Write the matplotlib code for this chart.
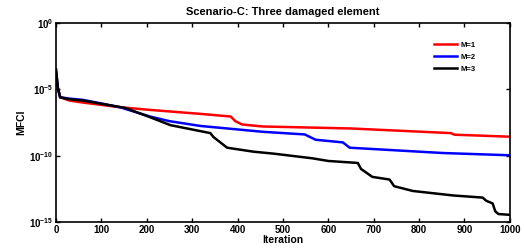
import numpy as np
import matplotlib.pyplot as plt

# iteration / log10(MFCI)
red_it = [0, 4, 9, 30, 60, 141, 207, 318, 385, 395, 410, 455, 649, 870, 878, 1000]
red_lg = [-3.7, -4.9, -5.6, -5.85, -6.0, -6.35, -6.55, -6.85, -7.05, -7.4, -7.65, -7.8, -7.95, -8.3, -8.42, -8.57]

blue_it = [0, 4, 9, 30, 60, 141, 207, 250, 318, 455, 548, 572, 632, 647, 852, 1000]
blue_lg = [-3.7, -4.9, -5.6, -5.7, -5.8, -6.35, -7.05, -7.4, -7.76, -8.2, -8.4, -8.8, -9.0, -9.4, -9.8, -9.97]

black_it = [0, 4, 9, 30, 60, 152, 207, 252, 340, 347, 377, 435, 480, 565, 600, 665, 672, 697, 735, 745, 786,
            875, 940, 948, 962, 968, 975, 1000]
black_lg = [-3.5, -4.9, -5.6, -5.75, -5.85, -6.4, -7.1, -7.7, -8.3, -8.6, -9.4, -9.7, -9.85, -10.2, -10.4, -10.55,
            -11.0, -11.6, -11.8, -12.3, -12.66, -13.0, -13.16, -13.4, -13.6, -14.2, -14.4, -14.46]

plt.rcParams['font.family'] = 'Liberation Sans'
plt.rcParams['font.weight'] = 'bold'

fig = plt.figure(figsize=(5.24, 2.5), dpi=100)
ax = fig.add_axes([0.107, 0.112, 0.866, 0.796])

ax.semilogy(red_it, 10.0**np.array(red_lg), color='red', lw=1.8, label='M=1')
ax.semilogy(blue_it, 10.0**np.array(blue_lg), color='blue', lw=1.8, label='M=2')
ax.semilogy(black_it, 10.0**np.array(black_lg), color='black', lw=1.8, label='M=3')

ax.set_xlim(0, 1000)
ax.set_ylim(1e-15, 1e0)
ax.set_xticks(np.arange(0, 1001, 100))
ax.set_yticks([1e-15, 1e-10, 1e-5, 1e0])
ax.minorticks_off()
ax.tick_params(direction='in', top=True, right=True, length=3, width=1, labelsize=7, pad=2)
for s in ax.spines.values():
    s.set_linewidth(1.2)

ax.set_title('Scenario-C: Three damaged element', fontsize=8, fontweight='bold', pad=6)
ax.set_xlabel('Iteration', fontsize=7.5, fontweight='bold', labelpad=0)
ax.set_ylabel('MFCI', fontsize=7.5, fontweight='bold', labelpad=2)

leg = ax.legend(loc='upper right', bbox_to_anchor=(0.94, 0.94), frameon=False, fontsize=5.5,
                handlelength=3, labelspacing=0.6, handletextpad=0.5)

fig.savefig('out.png', dpi=100)
